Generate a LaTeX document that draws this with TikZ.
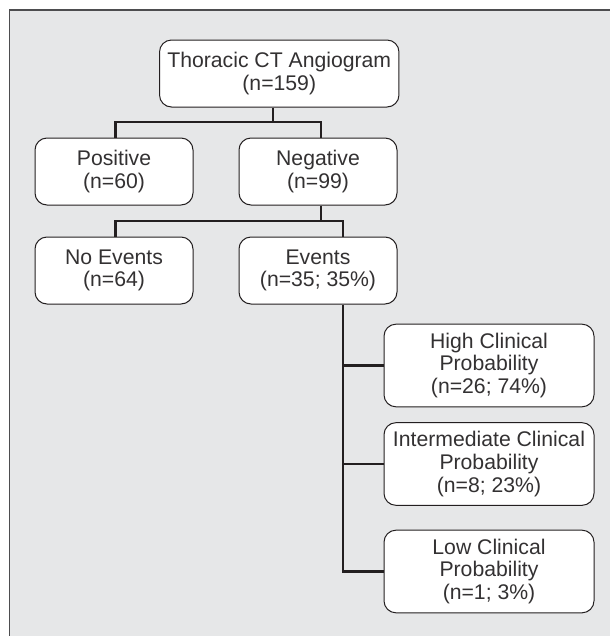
\documentclass[tikz,border=0pt]{standalone}
\usepackage{fontspec}
\setmainfont{Liberation Sans}
\definecolor{bgc}{HTML}{E6E7E8}
\definecolor{linec}{HTML}{231F20}
\definecolor{framec}{HTML}{4D4D4F}
\definecolor{textc}{HTML}{333132}
\tikzset{
  box/.style={draw=linec, line width=0.75pt, fill=white, rounded corners=9pt,
    align=center, inner sep=0pt, text=textc,
    font=\fontsize{15.9}{16.9}\selectfont},
  boxtop/.style={box, minimum width=179.6pt, minimum height=50.25pt},
  boxsm/.style={box, minimum width=118.5pt, minimum height=50.25pt},
  boxrt/.style={box, minimum width=157.5pt, minimum height=62pt},
  conn/.style={draw=linec, line width=2pt, line join=miter}
}
\begin{document}
\begin{tikzpicture}[x=0.75pt, y=-0.75pt]
\useasboundingbox (0,0) rectangle (610,636);
\clip (0,0) rectangle (610,636);
\fill[white] (0,0) rectangle (610,636);
\draw[framec, line width=0.9pt, fill=bgc] (9.5,10) rectangle (650,680);

\node[boxtop] (top) at (279.25,73.5) {Thoracic CT Angiogram\\(n=159)};
\node[boxsm] (pos) at (114,171.5) {Positive\\(n=60)};
\node[boxsm] (neg) at (318,171.5) {Negative\\(n=99)};
\node[boxsm] (noev) at (114,270.5) {No Events\\(n=64)};
\node[boxsm] (ev) at (318,270.5) {Events\\(n=35; 35\%)};
\node[boxrt] (high) at (489,365.5) {High Clinical\\Probability\\(n=26; 74\%)};
\node[boxrt] (inter) at (489,464) {Intermediate Clinical\\Probability\\(n=8; 23\%)};
\node[boxrt] (low) at (489,571.5) {Low Clinical\\Probability\\(n=1; 3\%)};

\coordinate (j0) at (273,122);
\coordinate (a1) at (115.5,122);
\coordinate (a2) at (321,122);
\coordinate (b0) at (321,221);
\coordinate (b1) at (115.5,221);
\coordinate (b2) at (343,221);

\draw[conn] (top.south -| j0) -- (j0);
\draw[conn] (pos.north -| a1) -- (a1) -- (a2) -- (neg.north -| a2);
\draw[conn] (neg.south -| b0) -- (b0);
\draw[conn] (noev.north -| b1) -- (b1) -- (b2) -- (ev.north -| b2);
\draw[conn] (ev.south -| b2) -- (b2 |- low.west) -- (low.west);
\draw[conn] (b2 |- high.west) -- (high.west);
\draw[conn] (b2 |- inter.west) -- (inter.west);
\end{tikzpicture}
\end{document}
